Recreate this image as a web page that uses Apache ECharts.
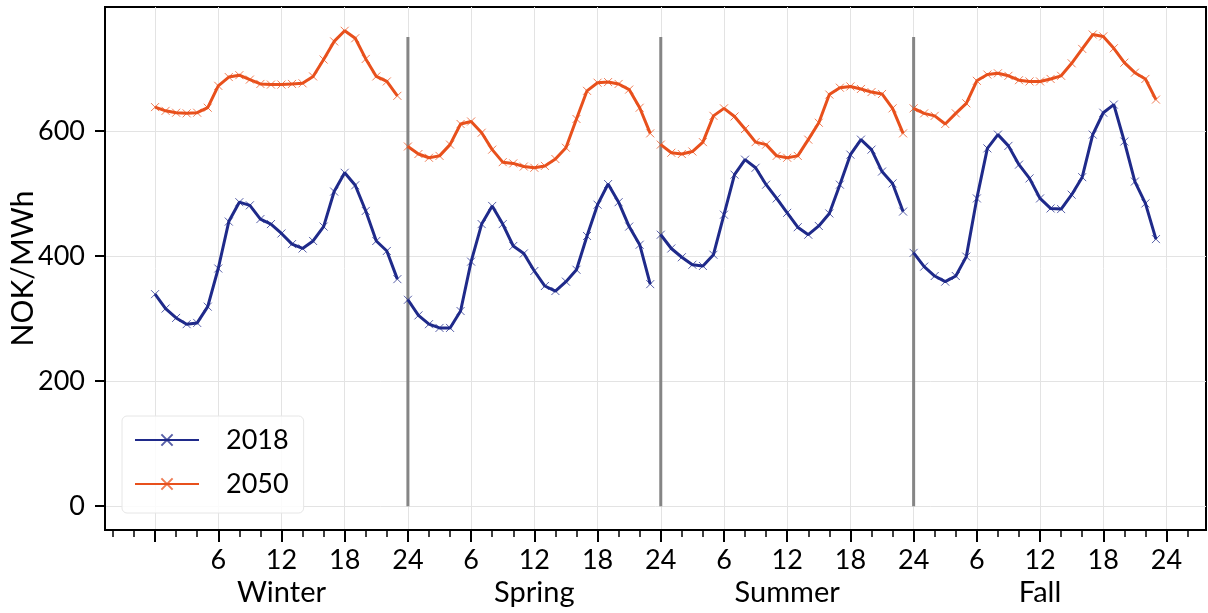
<!DOCTYPE html>
<html>
<head>
<meta charset="utf-8">
<script src="https://cdn.jsdelivr.net/npm/echarts@6/dist/echarts.min.js"></script>
<style>
  html, body { margin: 0; padding: 0; background: #ffffff; }
  #chart { width: 1208px; height: 613px; }
</style>
</head>
<body>
<div id="chart"></div>
<script>
// Average hourly electricity price per season, NOK/MWh
const seasons = ['Winter', 'Spring', 'Summer', 'Fall'];
const hoursPerSeason = 24;

const winter2018 = [339, 316, 301, 291, 293, 319, 380, 455, 486, 481, 459, 451, 436, 419, 412, 424, 447, 503, 533, 513, 472, 424, 408, 363];
const spring2018 = [330, 305, 291, 285, 285, 312, 391, 451, 480, 451, 416, 404, 376, 352, 344, 359, 378, 432, 482, 515, 486, 447, 418, 355];
const summer2018 = [434, 412, 398, 386, 384, 402, 466, 530, 554, 541, 514, 492, 469, 446, 434, 448, 468, 514, 562, 586, 570, 535, 516, 471];
const fall2018   = [405, 383, 368, 359, 368, 399, 492, 572, 594, 576, 546, 524, 492, 476, 475, 498, 526, 594, 629, 642, 583, 519, 484, 427];

const winter2050 = [638, 632, 629, 628, 629, 637, 672, 686, 689, 682, 675, 674, 674, 675, 676, 687, 714, 743, 760, 748, 715, 687, 679, 656];
const spring2050 = [575, 563, 557, 560, 578, 611, 615, 597, 570, 550, 548, 543, 541, 544, 555, 573, 619, 664, 677, 678, 675, 666, 637, 596];
const summer2050 = [578, 565, 563, 567, 582, 624, 636, 623, 603, 582, 578, 560, 557, 560, 586, 613, 658, 669, 671, 667, 662, 659, 636, 596];
const fall2050   = [636, 628, 624, 611, 628, 644, 680, 690, 692, 688, 681, 679, 679, 683, 688, 708, 731, 754, 751, 732, 709, 693, 683, 650];

// Tick positions on the running hour axis (0..96)
const majorTicks = [0, 6, 12, 18, 24, 30, 36, 42, 48, 54, 60, 66, 72, 78, 84, 90, 96];
const labelTicks = [6, 12, 18, 24, 30, 36, 42, 48, 54, 60, 66, 72, 78, 84, 90, 96];
const minorTicks = [-4, -2, 2, 4, 8, 10, 14, 16, 20, 22, 26, 28, 32, 34, 38, 40, 44, 46, 50, 52, 56, 58, 62, 64, 68, 70, 74, 76, 80, 82, 86, 88, 92, 94, 98];
const seasonCenters = [12, 36, 60, 84];
const yTicks = [0, 200, 400, 600];

// Season boundaries
const boundaryHours = [24, 48, 72];
const boundarySpan = [0, 750];

const years = [
  { name: '2018', color: '#1f2a8a', values: [winter2018, spring2018, summer2018, fall2018] },
  { name: '2050', color: '#e8501c', values: [winter2050, spring2050, summer2050, fall2050] }
];

const FONT = 'Lato';
const crossPath = 'path://M0,0L10,10M10,0L0,10';

const series = [];
boundaryHours.forEach(function (h) {
  series.push({
    name: 'boundary',
    type: 'line',
    silent: true,
    symbol: 'none',
    z: 1,
    lineStyle: { color: '#858585', width: 3 },
    data: boundarySpan.map(function (v) { return [h, v]; })
  });
});
years.forEach(function (yr) {
  yr.values.forEach(function (vals, s) {
    series.push({
      name: yr.name,
      type: 'line',
      z: 3,
      symbol: crossPath,
      symbolSize: 8,
      showSymbol: true,
      lineStyle: { color: yr.color, width: 3 },
      itemStyle: { color: yr.color, borderColor: yr.color, borderWidth: 1, opacity: 0.75 },
      emphasis: { disabled: true },
      data: vals.map(function (v, h) { return [s * hoursPerSeason + h, v]; })
    });
  });
});

const chart = echarts.init(document.getElementById('chart'), null, { renderer: 'canvas' });
chart.setOption({
  animation: false,
  backgroundColor: '#ffffff',
  textStyle: { fontFamily: FONT },
  grid: {
    left: 105, right: 2, top: 7, bottom: 83,
    show: true, borderColor: '#000000', borderWidth: 2,
    containLabel: false, outerBoundsMode: 'none'
  },
  legend: {
    data: ['2018', '2050'],
    orient: 'vertical',
    left: 122, top: 416,
    padding: [9, 15, 14, 12],
    itemWidth: 64, itemHeight: 14, itemGap: 14,
    backgroundColor: 'rgba(255,255,255,0.85)',
    borderColor: '#e6e6e6', borderWidth: 1, borderRadius: 5,
    textStyle: { fontFamily: FONT, fontSize: 27, color: '#000', lineHeight: 30, padding: [0, 0, 0, 22] }
  },
  xAxis: [
    {
      type: 'value', min: -4.75, max: 99.75, position: 'bottom',
      axisLine: { show: true, onZero: false, lineStyle: { color: '#000', width: 2 } },
      axisTick: { show: true, customValues: majorTicks, length: 12, lineStyle: { color: '#000', width: 2 } },
      axisLabel: {
        customValues: labelTicks, fontSize: 27, color: '#000', margin: 17, fontFamily: FONT,
        formatter: function (v) { const h = v % hoursPerSeason; return String(h === 0 ? hoursPerSeason : h); }
      },
      splitLine: { show: true, lineStyle: { color: '#e3e3e3', width: 1 } },
      minorTick: { show: false }
    },
    {
      type: 'value', min: -4.75, max: 99.75, position: 'bottom',
      axisLine: { show: false, onZero: false },
      axisTick: { show: true, customValues: minorTicks, length: 7, lineStyle: { color: '#000', width: 1.5 } },
      axisLabel: { show: false },
      splitLine: { show: false }
    },
    {
      type: 'value', min: -4.75, max: 99.75, position: 'bottom',
      axisLine: { show: false, onZero: false },
      axisTick: { show: false },
      axisLabel: {
        customValues: seasonCenters, fontSize: 29, color: '#000', margin: 48, fontFamily: FONT,
        formatter: function (v) { return seasons[Math.round((v - 12) / hoursPerSeason)]; }
      },
      splitLine: { show: false }
    }
  ],
  yAxis: {
    type: 'value', min: -38, max: 798,
    name: 'NOK/MWh', nameLocation: 'middle', nameGap: 67, nameMoveOverlap: false,
    nameTextStyle: { fontSize: 30, color: '#000', fontFamily: FONT },
    axisLine: { show: true, onZero: false, lineStyle: { color: '#000', width: 2 } },
    axisTick: { show: true, customValues: yTicks, length: 10, lineStyle: { color: '#000', width: 2 } },
    axisLabel: { customValues: yTicks, fontSize: 27, color: '#000', margin: 20, fontFamily: FONT },
    splitLine: { show: true, lineStyle: { color: '#e3e3e3', width: 1 } }
  },
  series: series
});
</script>
</body>
</html>
